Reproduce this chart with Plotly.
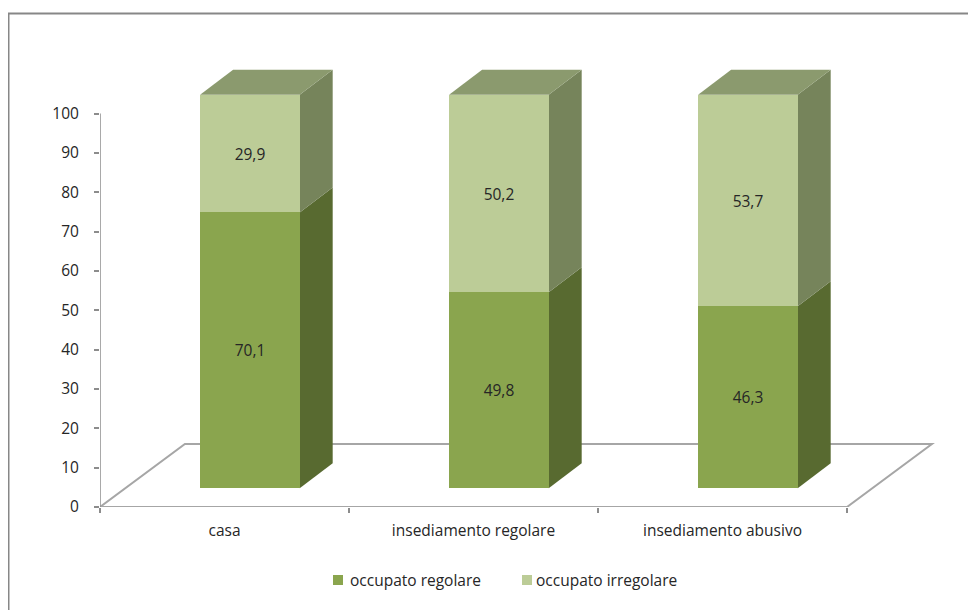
import plotly.graph_objects as go

# ---------------- data ----------------
categories = ["casa", "insediamento regolare", "insediamento abusivo"]
series_names = ["occupato regolare", "occupato irregolare"]
regolare = [70.1, 49.8, 46.3]
irregolare = [29.9, 50.2, 53.7]
y_ticks = [0, 10, 20, 30, 40, 50, 60, 70, 80, 90, 100]

# ---------------- styling / geometry ----------------
front_colors = ["#8AA54E", "#BCCC97"]
side_colors = ["#586A30", "#76845B"]
top_color = "#8B9A6E"
axis_gray = "#8C8C8C"
text_color = "#262626"
FONT = "Open Sans"
FS = 15.5

BAR_W = 0.40          # bar width (category units)
OX, OY = 0.102, 4.75  # shift of bar front face into the floor depth
DX, DY = 0.1325, 6.35 # bar depth
FX, FY = 0.341, 16.0  # floor depth
X_RANGE = [-0.5, 2.8735]
Y_RANGE = [0, 113.6]

# plot-area in figure pixels (for paper-based decorations)
L, T, W, H = 92, 52, 840, 447
def px(fx):
    return (fx - L) / W
def py(fy):
    return (T + H - fy) / H

xs = list(range(len(categories)))
fig = go.Figure()

# front faces as bars
bases = [[OY] * len(xs), [OY + r for r in regolare]]
vals = [regolare, irregolare]
for i, name in enumerate(series_names):
    fig.add_trace(go.Bar(
        x=[x + OX for x in xs], y=vals[i], base=bases[i], width=BAR_W,
        name=name, marker=dict(color=front_colors[i], line=dict(width=0)),
        texttemplate="%{y:.1f}", textposition="inside", insidetextanchor="middle",
        textangle=0, constraintext="none",
        textfont=dict(family=FONT, size=FS, color=text_color),
        hoverinfo="skip", showlegend=False,
    ))

shapes = []
# floor parallelogram
fl, fr = X_RANGE[0], len(xs) - 0.5
shapes.append(dict(type="path", xref="x", yref="y", layer="below",
                   path=f"M {fl},0 L {fr},0 L {fr+FX},{FY} L {fl+FX},{FY} Z",
                   line=dict(color="#A6A6A6", width=2), fillcolor="rgba(0,0,0,0)"))
# y axis line
shapes.append(dict(type="line", xref="x", yref="y", layer="below",
                   x0=fl, x1=fl, y0=0, y1=y_ticks[-1],
                   line=dict(color=axis_gray, width=1.5)))

# side and top faces
for j, x in enumerate(xs):
    xr = x + OX + BAR_W / 2
    xl = x + OX - BAR_W / 2
    lows = [OY, OY + regolare[j]]
    highs = [OY + regolare[j], OY + regolare[j] + irregolare[j]]
    for i in range(2):
        y0, y1 = lows[i], highs[i]
        shapes.append(dict(type="path", xref="x", yref="y", layer="below",
                           path=f"M {xr},{y0} L {xr+DX},{y0+DY} L {xr+DX},{y1+DY} L {xr},{y1} Z",
                           line=dict(width=0), fillcolor=side_colors[i]))
    t = highs[1]
    shapes.append(dict(type="path", xref="x", yref="y", layer="below",
                       path=f"M {xl},{t} L {xr},{t} L {xr+DX},{t+DY} L {xl+DX},{t+DY} Z",
                       line=dict(width=0), fillcolor=top_color))

# outer chart border
shapes.append(dict(type="rect", xref="paper", yref="paper",
                   x0=px(0.5), x1=px(990), y0=py(630), y1=py(5.5),
                   line=dict(color="#878787", width=2), fillcolor="rgba(0,0,0,0)"))

# legend (manual, Excel-like compact layout)
annotations = []
legend_sq_x = [325, 514]
legend_tx_x = [340, 526]
legend_y = 572
for i, name in enumerate(series_names):
    shapes.append(dict(type="rect", xref="paper", yref="paper",
                       x0=px(legend_sq_x[i]), x1=px(legend_sq_x[i] + 10),
                       y0=py(legend_y + 5), y1=py(legend_y - 5),
                       line=dict(width=0), fillcolor=front_colors[i]))
    annotations.append(dict(xref="paper", yref="paper", x=px(legend_tx_x[i]), y=py(legend_y),
                            xanchor="left", yanchor="middle", showarrow=False, text=name,
                            font=dict(family=FONT, size=FS, color=text_color)))

fig.update_layout(
    width=976, height=610,
    margin=dict(l=L, r=976 - L - W, t=T, b=610 - T - H),
    plot_bgcolor="white", paper_bgcolor="white",
    barmode="overlay", bargap=0,
    separators=",.",
    shapes=shapes, annotations=annotations,
    font=dict(family=FONT, size=FS, color=text_color),
    showlegend=False,
    xaxis=dict(range=X_RANGE, showgrid=False, zeroline=False, showline=False,
               tickmode="array", tickvals=xs, ticktext=categories, ticks="",
               ticklabelstandoff=12,
               minor=dict(tickmode="array", tickvals=[-0.5, 0.5, 1.5, 2.5],
                          ticks="outside", ticklen=5, tickcolor=axis_gray, tickwidth=1.5),
               tickfont=dict(family=FONT, size=FS, color=text_color), fixedrange=True),
    yaxis=dict(range=Y_RANGE, showgrid=False, zeroline=False, showline=False,
               tickmode="array", tickvals=y_ticks, ticks="outside", ticklen=5,
               tickcolor=axis_gray, tickwidth=1.5, ticklabelstandoff=12,
               tickfont=dict(family=FONT, size=FS, color=text_color), fixedrange=True),
)

fig.write_html("out.html")
